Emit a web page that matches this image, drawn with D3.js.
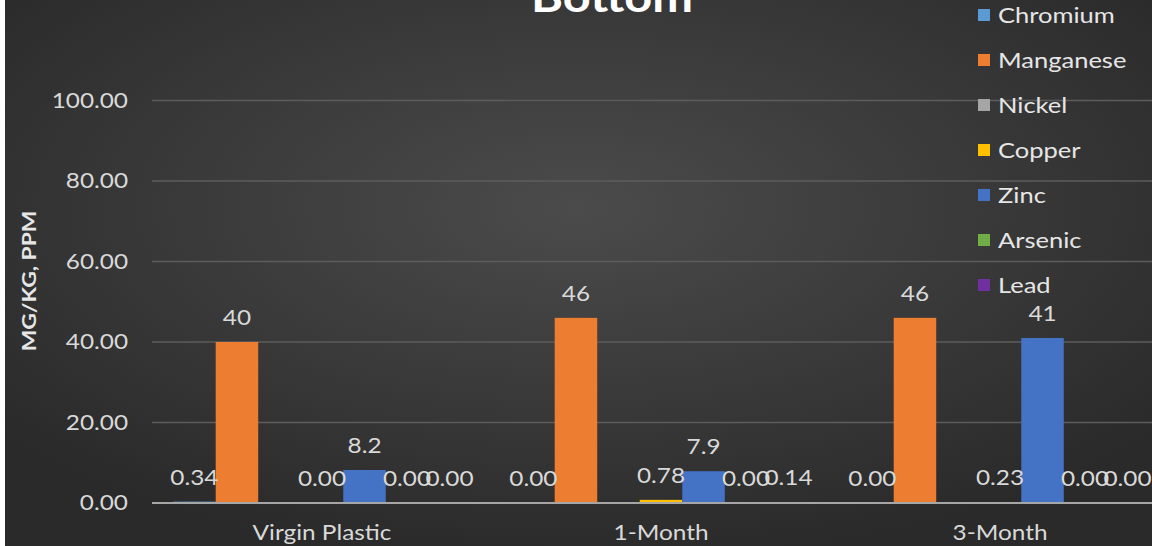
<!DOCTYPE html>
<html lang="en">
<head>
<meta charset="UTF-8">
<title>Bottom</title>
<style>
  html, body { margin: 0; padding: 0; background: #ffffff; }
  svg { display: block; }
  text { font-family: Lato, "Open Sans", sans-serif; }
</style>
</head>
<body>
<script src="https://d3js.org/d3.v7.min.js"></script>
<script>
// data (Nickel has no values / no labels)
let categories = ['Virgin Plastic', '1-Month', '3-Month'];
let seriesNames = ['Chromium', 'Manganese', 'Nickel', 'Copper', 'Zinc', 'Arsenic', 'Lead'];
let seriesColors = ['#5b9bd5', '#ed7d31', '#a5a5a5', '#ffc000', '#4472c4', '#70ad47', '#7030a0'];
let chromium  = [0.34, 0.00, 0.00];
let manganese = [40, 46, 46];
let nickel    = [null, null, null];
let copper    = [0.00, 0.78, 0.23];
let zinc      = [8.2, 7.9, 41];
let arsenic   = [0.00, 0.00, 0.00];
let lead      = [0.00, 0.14, 0.00];
let labelText = [
  ['0.34', '0.00', '0.00'],
  ['40', '46', '46'],
  [null, null, null],
  ['0.00', '0.78', '0.23'],
  ['8.2', '7.9', '41'],
  ['0.00', '0.00', '0.00'],
  ['0.00', '0.14', '0.00']
];
let yTicks = [0, 20, 40, 60, 80, 100];

let allSeries = [chromium, manganese, nickel, copper, zinc, arsenic, lead];

let width = 1152, height = 546;
// text in the source looks a bit stretched sideways
let stretch = 1.16;
function at(fx, fy) { return 'translate(' + fx + ',' + fy + ') scale(' + stretch + ',1)'; }

let svg = d3.select('body').append('svg')
  .attr('width', width).attr('height', height);

// background
let defs = svg.append('defs');
let grad = defs.append('radialGradient').attr('id', 'bg')
  .attr('cx', '50%').attr('cy', '38%').attr('r', '65%');
grad.append('stop').attr('offset', '0%').attr('stop-color', '#4b4b4b');
grad.append('stop').attr('offset', '100%').attr('stop-color', '#2a2a2a');
svg.append('rect').attr('width', width).attr('height', height).attr('fill', 'url(#bg)');
svg.append('rect').attr('width', 5).attr('height', height).attr('fill', '#ffffff');

let x0 = d3.scaleBand().domain(categories).range([152.5, 1169.5]).paddingInner(0.122).paddingOuter(0.061);
let x1 = d3.scaleBand().domain(seriesNames).range([0, x0.bandwidth()]).padding(0);
let y = d3.scaleLinear().domain([0, 100]).range([503, 100.5]);

// gridlines
svg.append('g').selectAll('line').data(yTicks.filter(d => d > 0)).join('line')
  .attr('x1', 152).attr('x2', width)
  .attr('y1', d => y(d)).attr('y2', d => y(d))
  .attr('stroke', '#5c5c5c').attr('stroke-width', 1.5);

// y tick labels
svg.append('g').selectAll('text').data(yTicks).join('text')
  .attr('transform', d => at(128, y(d)))
  .attr('dy', '0.35em')
  .attr('text-anchor', 'end')
  .attr('fill', '#d9d9d9').attr('font-size', 21)
  .text(d => d3.format('.2f')(d));

// axis title
svg.append('text')
  .attr('transform', 'translate(36,281) rotate(-90) scale(1.2,1)')
  .attr('text-anchor', 'middle')
  .attr('fill', '#e6e6e6').attr('font-size', 19).attr('font-weight', 'bold')
  .text('MG/KG, PPM');

// bars
let groups = svg.append('g').selectAll('g').data(seriesNames).join('g')
  .attr('fill', (d, i) => seriesColors[i]);

groups.selectAll('rect')
  .data((s, i) => categories.map((c, j) => ({ c: c, s: s, v: allSeries[i][j] })).filter(d => d.v != null))
  .join('rect')
  .attr('x', d => x0(d.c) + x1(d.s))
  .attr('width', x1.bandwidth())
  .attr('y', d => y(d.v))
  .attr('height', d => y(0) - y(d.v));

// baseline
svg.append('line')
  .attr('x1', 152).attr('x2', width)
  .attr('y1', y(0)).attr('y2', y(0))
  .attr('stroke', '#a6a6a6').attr('stroke-width', 2);

// data labels
let labels = [];
seriesNames.forEach((s, i) => {
  categories.forEach((c, j) => {
    if (allSeries[i][j] != null && labelText[i][j] != null) {
      labels.push({ c: c, s: s, v: allSeries[i][j], t: labelText[i][j] });
    }
  });
});
svg.append('g').selectAll('text').data(labels).join('text')
  .attr('transform', d => at(x0(d.c) + x1(d.s) + x1.bandwidth() / 2, y(d.v) - 17))
  .attr('text-anchor', 'middle')
  .attr('fill', '#d9d9d9').attr('font-size', 21)
  .text(d => d.t);

// category labels
svg.append('g').selectAll('text').data(categories).join('text')
  .attr('transform', d => at(x0(d) + x0.bandwidth() / 2, 540))
  .attr('text-anchor', 'middle')
  .attr('fill', '#d9d9d9').attr('font-size', 21)
  .text(d => d);

// title (cut off at the top, as in the source)
svg.append('text')
  .attr('transform', at(612, 12))
  .attr('text-anchor', 'middle')
  .attr('fill', '#ffffff').attr('font-size', 42).attr('font-weight', 'bold')
  .text('Bottom');

// legend
let legend = svg.append('g').selectAll('g').data(seriesNames).join('g')
  .attr('transform', (d, i) => 'translate(978,' + (15 + i * 45) + ')');
legend.append('rect')
  .attr('x', 0).attr('y', -6).attr('width', 12).attr('height', 12)
  .attr('fill', (d, i) => seriesColors[i]);
legend.append('text')
  .attr('transform', at(20, 0))
  .attr('dy', '0.35em')
  .attr('fill', '#e6e6e6').attr('font-size', 22)
  .text(d => d);
</script>
</body>
</html>
